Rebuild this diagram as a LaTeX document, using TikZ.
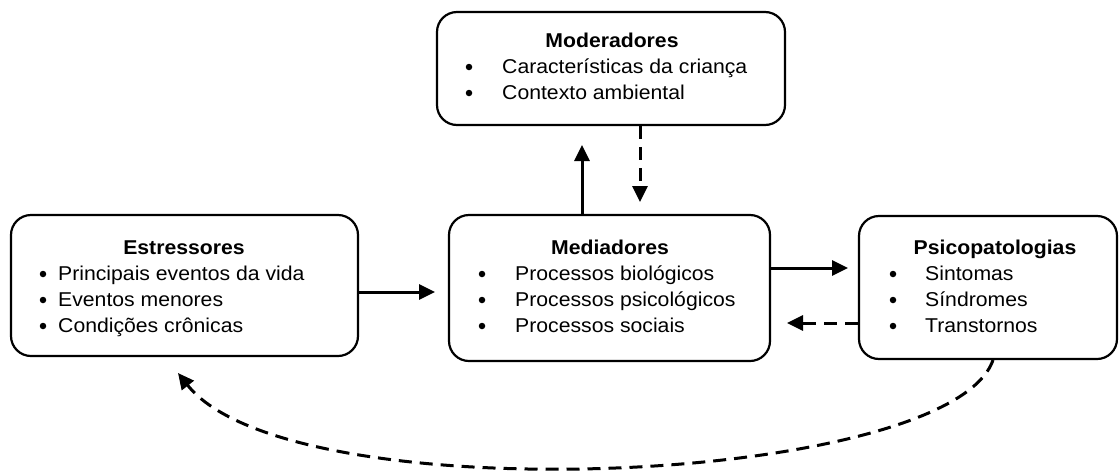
\documentclass[tikz,border=0pt]{standalone}
\usepackage{fontspec}
\setmainfont{Liberation Sans}
\usetikzlibrary{arrows.meta}
\newcommand{\stx}[1]{\scalebox{1.06}[1]{#1}}
\tikzset{
  box/.style={draw, line width=2.2pt, rounded corners=20pt},
  ttl/.style={font=\fontsize{20}{24}\selectfont\bfseries, anchor=base, inner sep=0pt},
  itm/.style={font=\fontsize{20}{24}\selectfont, anchor=base west, inner sep=0pt},
  bul/.style={circle, fill, inner sep=0pt, minimum size=6.5pt},
  arr/.style={line width=3pt, -{Triangle[length=16pt,width=15pt]}},
  darr/.style={arr, dash pattern=on 13pt off 8pt},
}
\begin{document}
\begin{tikzpicture}[x=1pt,y=-1pt]
\useasboundingbox (0,0) rectangle (1119,472);
% boxes
\node[box, minimum width=348pt, minimum height=113pt] (mod) at (611,68.5) {};
\node[box, minimum width=347pt, minimum height=141pt] (est) at (184.5,285.5) {};
\node[box, minimum width=321pt, minimum height=146pt] (med) at (609.5,288) {};
\node[box, minimum width=258pt, minimum height=143pt] (psi) at (988,287.5) {};
% Moderadores text
\node[ttl] (modt) at (612,47) {\stx{Moderadores}};
\node[bul] (modb1) at (469,67) {};
\node[itm] (modi1) at (502,73) {\stx{Características da criança}};
\node[bul] (modb2) at (469,93) {};
\node[itm] (modi2) at (502,99) {\stx{Contexto ambiental}};
% Estressores text
\node[ttl] (estt) at (184,254) {\stx{Estressores}};
\node[bul] (estb1) at (43,274) {};
\node[itm] (esti1) at (58,280) {\stx{Principais eventos da vida}};
\node[bul] (estb2) at (43,300) {};
\node[itm] (esti2) at (58,306) {\stx{Eventos menores}};
\node[bul] (estb3) at (43,326) {};
\node[itm] (esti3) at (58,332) {\stx{Condições crônicas}};
% Mediadores text
\node[ttl] (medt) at (610,254) {\stx{Mediadores}};
\node[bul] (medb1) at (482,274) {};
\node[itm] (medi1) at (515,280) {\stx{Processos biológicos}};
\node[bul] (medb2) at (482,300) {};
\node[itm] (medi2) at (515,306) {\stx{Processos psicológicos}};
\node[bul] (medb3) at (482,326) {};
\node[itm] (medi3) at (515,332) {\stx{Processos sociais}};
% Psicopatologias text
\node[ttl] (psit) at (995,254) {\stx{Psicopatologias}};
\node[bul] (psib1) at (893,274) {};
\node[itm] (psii1) at (925,280) {\stx{Sintomas}};
\node[bul] (psib2) at (893,300) {};
\node[itm] (psii2) at (925,306) {\stx{Síndromes}};
\node[bul] (psib3) at (893,326) {};
\node[itm] (psii3) at (925,332) {\stx{Transtornos}};
% connectors
\coordinate (upend) at (582,145);
\coordinate (downend) at (640,202);
\coordinate (emend) at (435,292);
\coordinate (mpend) at (848,268);
\coordinate (pmend) at (787,323);
\coordinate (curvestart) at (993,360);
\coordinate (curveend) at (178,373);
\draw[arr] (med.north -| upend) -- (upend);
\draw[darr] (mod.south -| downend) -- (downend);
\draw[arr] (est.east |- emend) -- (emend);
\draw[arr] (med.east |- mpend) -- (mpend);
\draw[darr] (psi.west |- pmend) -- (pmend);
\draw[darr] (curvestart) .. controls (950,485) and (290,515) .. (curveend);
\end{tikzpicture}
\end{document}
